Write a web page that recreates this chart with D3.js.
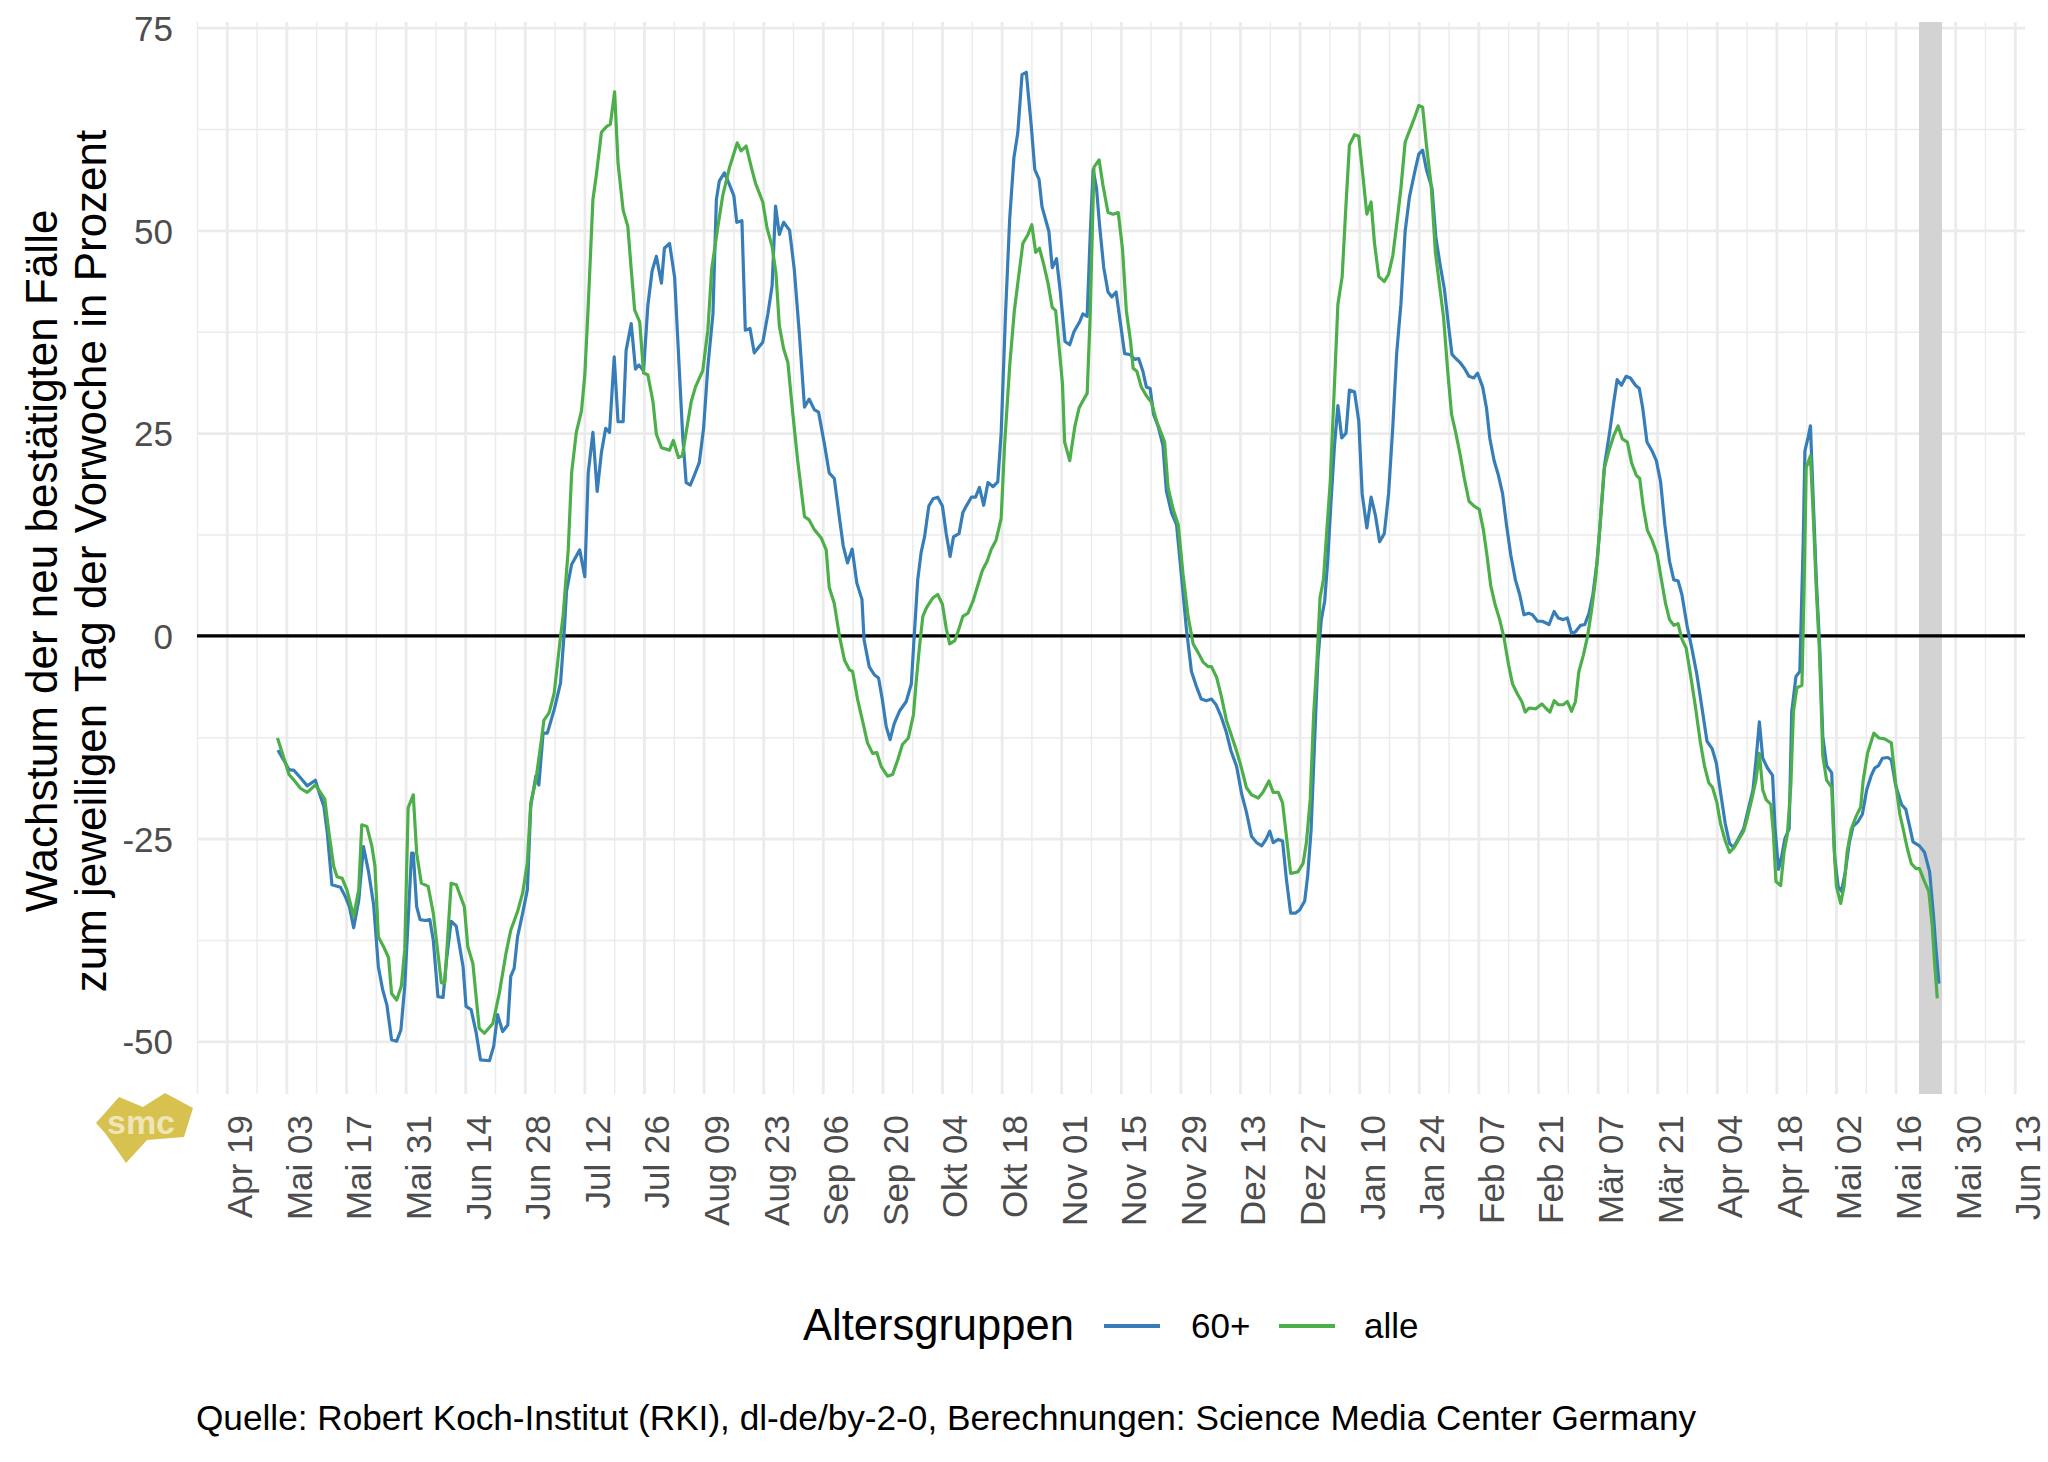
<!DOCTYPE html>
<html>
<head>
<meta charset="utf-8">
<script src="https://cdn.jsdelivr.net/npm/d3@7"></script>
<style>
  body { margin: 0; background: #fff; }
  text { font-family: "Liberation Sans", Arial, Helvetica, sans-serif; }
</style>
</head>
<body>
<div id="chart"></div>
<script>
// growth vs. same weekday of previous week, in percent
// each point: [days since 19 Apr 2020, value]
const series60 = [[12,-14.1],[13.8,-15.7],[14.6,-16.5],[15.8,-16.6],[17.3,-17.5],[18.9,-18.5],[20.8,-17.8],[22,-19.8],[22.8,-21],[23.6,-24.3],[24.7,-30.7],[26.7,-31],[27.8,-32.1],[28.8,-33.4],[29.8,-36],[31,-32.6],[32.1,-26],[33.3,-29.1],[34.5,-33.2],[35.6,-40.8],[36.6,-43.6],[37.6,-45.5],[38.7,-49.8],[39.9,-50],[40.9,-48.6],[41.8,-43.2],[42.6,-35],[43.4,-26.8],[43.8,-26.8],[44.6,-33.4],[45.4,-35],[46.6,-35.1],[47.7,-35],[48.5,-37.5],[49.6,-44.5],[50.8,-44.6],[51.6,-40],[52.7,-35.2],[53.9,-35.8],[55.5,-40.8],[56.2,-45.7],[57.4,-46.1],[58.6,-49],[59.6,-52.3],[61.7,-52.4],[62.7,-50.6],[63.6,-46.7],[64.8,-48.8],[66,-48],[66.7,-42],[67.5,-41],[68.3,-37.1],[69.5,-34.2],[70.6,-31.3],[71.4,-21],[72.6,-17.3],[73.3,-18.4],[74.3,-12],[75.3,-12],[76.9,-9.1],[78.4,-5.8],[79.2,0],[79.8,5.5],[81,8.8],[82.9,10.6],[84.1,7.3],[84.9,20.1],[86,25.1],[87,17.8],[88,22.6],[89,25.6],[89.9,25.1],[91,34.4],[91.9,26.4],[93.1,26.4],[93.8,35.2],[95,38.5],[96,32.9],[96.8,33.4],[97.9,32.7],[98.9,40.7],[99.9,45],[100.9,46.8],[102.1,43.5],[102.8,47.8],[104,48.4],[105.2,44.2],[106.4,31.7],[107.1,24.6],[107.9,18.9],[108.9,18.6],[109.9,19.9],[111,21.4],[112,25.6],[113,33.2],[114.2,39.7],[115,53.8],[115.7,56.1],[116.9,57.1],[118.1,55.6],[119.1,54.3],[119.8,51],[121,51.2],[121.8,37.7],[122.9,37.9],[123.9,34.9],[125.9,36.2],[127.1,39.7],[128.1,43.2],[128.9,53],[129.8,49.5],[130.8,51],[132.2,50],[133.3,45.2],[134.5,37.2],[135.7,28.2],[136.8,29.2],[138,27.9],[139,27.6],[140.4,23.6],[141.5,20.1],[142.7,19.4],[143.9,14.6],[144.8,11.1],[145.8,9],[146.9,10.7],[148,6.5],[149.2,4.5],[149.7,-0.5],[150.9,-3.8],[152.1,-4.8],[153.1,-5.2],[154,-7.9],[154.9,-11.2],[155.8,-12.8],[156.8,-10.8],[158,-9.3],[159.6,-8.1],[160.8,-5.9],[161.5,0.2],[162.3,6.9],[163.1,10.3],[163.9,12.2],[164.9,16],[165.9,16.9],[167,17.1],[168.1,16],[169,12.6],[169.9,9.8],[170.7,12.2],[172,12.6],[172.9,15.2],[173.7,16],[174.9,17.1],[175.9,17.1],[176.8,18.3],[177.8,16.1],[178.8,18.9],[180,18.4],[181.1,19],[181.9,25],[182.9,39.4],[183.9,51.4],[184.9,59],[185.8,62],[186.8,69.2],[187.8,69.5],[189,62.7],[189.8,57.5],[190.8,56.3],[191.5,52.9],[192.3,51.4],[193.1,49.9],[193.9,45.4],[194.9,46.5],[195.8,42.4],[196.9,36.3],[198,35.9],[199,37.5],[200.4,38.8],[201.1,39.7],[202.1,39.4],[202.8,49.2],[203.5,57.5],[204.3,55.2],[205,50.7],[206,45.4],[207,42.4],[207.9,41.8],[208.9,42.4],[209.9,38.6],[210.9,34.8],[212.1,34.7],[213.3,34.1],[214.2,34.2],[215.2,32.6],[216,30.7],[216.9,30.5],[217.7,27.3],[218.8,25.8],[219.9,23.5],[220.7,17.9],[221.9,15.2],[223.1,13.7],[224.2,7.7],[225.4,0.9],[226.6,-4.4],[227.8,-6.3],[228.9,-7.8],[230.1,-8],[231.3,-7.8],[232.4,-8.5],[233.6,-10],[234.8,-11.9],[235.9,-14.2],[237.2,-16.1],[238.4,-19.5],[239.5,-21.7],[240.7,-24.7],[241.9,-25.5],[243.1,-25.9],[244.1,-25.1],[245,-24.1],[245.8,-25.5],[247,-25.1],[248,-25.3],[248.9,-30],[249.9,-34.2],[251,-34.2],[252,-33.8],[253.2,-32.7],[253.9,-29.6],[254.7,-24],[255.5,-13.4],[256.3,-2.9],[257.1,2],[257.9,4.3],[258.6,9.2],[259.4,16.7],[260.2,23.5],[261,28.4],[261.9,24.4],[262.9,25],[263.7,30.3],[264.9,30.1],[265.9,26.5],[266.7,17.5],[267.8,13.3],[268.8,17.1],[269.8,14.9],[270.8,11.6],[271.9,12.6],[272.9,17.5],[273.9,25.8],[274.8,34.8],[275.8,40.9],[276.8,49.9],[277.8,54.1],[279,57.1],[280,59.4],[280.9,59.9],[281.8,57.5],[283.1,55.2],[284,49.2],[285,45.8],[286,42.8],[287,38.2],[287.8,34.7],[288.7,34.2],[289.7,33.7],[290.7,33],[291.8,32],[292.9,31.8],[293.8,32.4],[295,30.7],[295.9,28.1],[296.7,24.3],[297.7,21.6],[298.7,19.8],[299.7,17.5],[300.6,13.7],[301.6,10],[302.7,6.9],[303.7,5.1],[304.7,2.6],[305.8,2.8],[306.7,2.6],[307.9,1.8],[309,1.8],[310.6,1.4],[311.8,3],[312.8,2.2],[313.9,2],[314.9,2.2],[315.9,0.3],[316.8,0.5],[318,1.3],[319,1.4],[320,2.8],[320.9,5.1],[321.9,9.2],[322.7,14.5],[323.7,21.3],[324.8,25],[325.8,28.8],[326.6,31.6],[327.6,30.9],[328.7,32],[329.7,31.8],[330.9,30.9],[331.8,30.5],[332.6,28.1],[333.6,23.9],[334.8,22.8],[335.8,21.6],[336.8,19],[337.8,13.7],[338.9,9.2],[339.9,6.9],[340.9,6.8],[341.8,5.1],[343,1.3],[344.2,-1.7],[345.3,-4.7],[346.5,-8.8],[347.7,-13],[348.9,-13.9],[349.9,-15.7],[350.8,-19],[352,-23.2],[353,-25.6],[353.9,-26.1],[355.1,-25],[356.3,-23.8],[357.4,-21.4],[358.5,-19],[359.2,-15.4],[360,-10.6],[360.8,-15.1],[361.9,-16.3],[363.1,-17.2],[363.7,-23.8],[364.5,-28.8],[365.2,-27.3],[366,-25],[367,-23.8],[367.6,-9.4],[368.6,-5],[369.5,-4.4],[370.3,11.5],[370.7,22.8],[371.5,24.6],[372,25.9],[372.7,16.2],[373.4,6.7],[374.2,-1.7],[374.9,-12.4],[375.8,-16],[377,-16.9],[377.7,-27.3],[378.5,-30.9],[379.3,-31.5],[380.2,-29.1],[381.1,-25.6],[382,-23.5],[383.2,-22.9],[384.2,-22],[385.2,-19],[386.3,-17.2],[387.1,-16.3],[388,-16],[388.9,-15.1],[390.2,-15],[391,-15.3],[392,-18.4],[393.4,-20.8],[394.4,-21.4],[395.3,-23.5],[396.1,-25.4],[397.6,-25.9],[398.8,-26.7],[400,-29.1],[400.9,-34.5],[401.5,-38.7],[402.2,-42.9]];

const seriesAlle = [[11.9,-12.6],[13.8,-15.7],[14.6,-17.1],[15.8,-17.8],[17.3,-18.8],[18.9,-19.3],[20.8,-18.4],[21.6,-19],[23,-20.1],[24,-24.3],[25.1,-28.4],[25.9,-29.7],[27.1,-29.9],[28.2,-31.3],[29.8,-34.6],[31,-31.3],[31.7,-23.3],[32.9,-23.5],[34.1,-26],[34.8,-28.4],[35.6,-37.1],[36.8,-38.3],[38,-39.7],[38.7,-44.1],[39.9,-44.9],[41,-43.2],[41.8,-38.7],[42.6,-21.2],[43.8,-19.6],[44.6,-26.8],[45.7,-30.5],[47.3,-30.9],[48.5,-34.2],[50.4,-42.8],[51.2,-42.8],[52.7,-30.5],[53.9,-30.7],[55.8,-33.4],[56.6,-38.3],[57.8,-40.4],[59.3,-48.4],[60.5,-49],[62.5,-47.8],[64,-44.1],[65.6,-39.1],[66.7,-36.3],[68.3,-34],[69.5,-31.7],[70.6,-28],[71.4,-20.6],[72.6,-17.8],[73.7,-13.6],[74.5,-10.4],[75.7,-9.5],[76.9,-7.1],[77.6,-3.8],[78.4,-0.1],[79,2.5],[80.2,10.6],[81,20.1],[82.1,25.1],[83.3,27.7],[84.1,32.2],[84.9,40.7],[86,53.8],[86.8,56.8],[88,62.1],[89.2,62.8],[90.1,63.1],[91.1,67.1],[91.9,58.3],[93.1,52.5],[94.2,50.5],[95,45.2],[95.8,40.2],[97,38.7],[97.9,32.4],[98.9,32.2],[100.1,28.9],[100.9,24.9],[102.1,23.2],[104,22.9],[104.9,24.1],[106.1,22],[107,22.2],[107.9,25.1],[109.1,28.9],[110.1,30.7],[111.8,32.7],[113,37.7],[113.9,45.2],[115.3,50.3],[116.5,54.3],[118.1,57.8],[119.9,60.8],[120.8,59.8],[122,60.4],[123.2,57.8],[124.2,55.8],[125.9,53.5],[126.9,50.3],[128.1,48],[129,44.7],[129.8,38.2],[130.8,35.4],[131.8,33.7],[132.9,27.7],[134.1,21.6],[135.7,14.7],[136.8,14.3],[138,13.1],[139.6,12.1],[140.8,10.6],[141.5,6],[142.7,4],[143.9,0],[145.1,-3],[146.3,-4.2],[147,-4.4],[148.2,-7.9],[149.3,-10.4],[150.5,-13.2],[151.7,-14.5],[152.7,-14.4],[153.7,-16.1],[155.2,-17.3],[156.4,-17.1],[157.6,-15.3],[158.7,-13.4],[160.1,-12.6],[161.3,-9.7],[161.9,-5.9],[162.7,-1.4],[163.5,2.4],[164.4,3.5],[165.9,4.7],[167,5.1],[168.1,3.9],[169,0.9],[169.8,-1],[171,-0.6],[172,0.9],[172.9,2.4],[174.1,2.8],[175.3,4.3],[176.4,6.2],[177.5,8.1],[178.6,9.2],[179.6,10.7],[180.7,11.8],[181.9,14.5],[182.7,23.5],[183.9,33.3],[185,40.1],[186,44.3],[187,48.4],[188.2,49.5],[189.1,50.7],[190,47.3],[190.9,47.8],[191.9,45.8],[192.9,43.5],[193.9,40.5],[194.7,40.1],[195.5,35.6],[196.3,31.1],[196.8,23.9],[198,21.6],[199.2,25.8],[200.2,28.1],[201.1,29],[202.1,29.9],[202.8,39.4],[203.7,57.8],[204.9,58.7],[205.8,55.6],[207,52.2],[208.2,52],[209.4,52.2],[210.4,47.7],[211.3,40.1],[212.3,36.3],[212.9,33],[213.8,32.6],[214.8,30.7],[216,29.6],[217.2,28.8],[218.4,26.5],[219.5,25],[220.3,23.9],[221.1,18.3],[222.3,15.6],[223.5,13.7],[224.6,7.7],[225.8,2.4],[227,-1],[228.2,-2.1],[229.3,-3.2],[230.5,-3.8],[231.3,-3.8],[232.5,-5.1],[233.6,-7.4],[234.8,-10.4],[236,-12.3],[237.2,-14.2],[238.4,-16.4],[239.5,-18.7],[240.7,-19.6],[242.3,-20],[243.4,-19.3],[244.8,-17.9],[245.8,-19.3],[247,-19.3],[248,-20.6],[248.9,-24.7],[249.9,-29.3],[251.6,-29.1],[252.8,-28.1],[253.6,-25.5],[254.5,-20.2],[255.3,-9.7],[256.1,-2.9],[256.8,4.7],[257.6,6.9],[258.4,13],[259.2,19],[260.2,31.1],[261,40.9],[262,44.3],[262.8,52.2],[263.7,60.5],[264.9,61.8],[265.9,61.6],[266.8,57.1],[267.8,52],[268.8,53.5],[269.6,48.4],[270.6,44.3],[271.9,43.7],[272.9,44.6],[273.9,46.9],[274.8,50.7],[275.8,55.2],[276.8,60.9],[277.9,62.4],[279,63.9],[280,65.4],[280.9,65.2],[281.8,60.5],[282.9,55.6],[283.9,47.3],[284.8,43.5],[285.8,39.4],[286.8,32.6],[287.7,27.3],[288.7,25],[289.7,22.4],[290.7,19.4],[291.8,16.6],[293,16],[294.2,15.6],[295.2,13],[296.1,9.6],[296.9,6.2],[297.9,3.9],[299,2],[300,-0.2],[301.1,-3.6],[302,-5.9],[303.2,-7.2],[304.2,-8.1],[305,-9.4],[305.9,-8.9],[307.5,-9],[308.9,-8.4],[309.8,-8.9],[310.8,-9.4],[311.8,-8],[312.8,-8.5],[313.9,-8.5],[314.9,-8.1],[315.9,-9.3],[316.8,-8.1],[317.6,-4.4],[318.6,-2.5],[319.6,-0.2],[320.6,3.2],[321.5,6.9],[322.5,13],[323.5,20.5],[324.7,22.9],[325.8,24.7],[326.8,25.9],[327.8,24.3],[329,23.9],[330,21.3],[331.1,19.8],[331.9,19.4],[332.7,16],[333.7,13],[334.8,11.8],[336,10],[337,6.9],[338,3.9],[338.9,2],[339.9,1.3],[340.9,1.5],[341.8,-0.4],[342.8,-1.5],[343.8,-4.7],[345,-8.8],[346.1,-13],[347.1,-16],[348.1,-18.1],[349,-18.7],[350,-20.5],[350.9,-23.2],[352,-25.3],[353,-26.7],[354.1,-26.1],[355.3,-25],[356.3,-24.1],[357.1,-22.6],[358.2,-20.2],[359.2,-17.8],[360,-14.5],[360.8,-19],[361.6,-20.2],[362.7,-20.8],[363.3,-24.4],[363.9,-30.3],[365,-30.8],[365.8,-26.7],[366.6,-24.4],[367.4,-18.4],[368,-9.4],[368.8,-6.4],[370,-6.1],[370.5,5.5],[371,20.7],[372,22.2],[372.7,14.4],[373.4,5.5],[374.1,-1.7],[374.9,-14.8],[375.8,-17.8],[377,-18.7],[377.5,-25.6],[378.1,-30.9],[379.1,-33],[379.9,-30.9],[380.6,-26.7],[381.6,-23.8],[382.7,-22.3],[383.8,-21.1],[384.4,-17.8],[385.4,-14.5],[386.1,-13.3],[386.9,-12],[388.1,-12.6],[389.4,-12.7],[391,-13.2],[392,-18.1],[393,-22],[393.9,-24.1],[394.7,-26.1],[395.7,-28.1],[396.8,-28.7],[397.6,-28.7],[398.8,-30.3],[399.8,-31.5],[400.6,-35.7],[401.1,-39.9],[401.8,-44.7]];

const tickDates = ["2020-04-19","2020-05-03","2020-05-17","2020-05-31","2020-06-14","2020-06-28","2020-07-12","2020-07-26","2020-08-09","2020-08-23","2020-09-06","2020-09-20","2020-10-04","2020-10-18","2020-11-01","2020-11-15","2020-11-29","2020-12-13","2020-12-27","2021-01-10","2021-01-24","2021-02-07","2021-02-21","2021-03-07","2021-03-21","2021-04-04","2021-04-18","2021-05-02","2021-05-16","2021-05-30","2021-06-13"];
const tickLabels = ["Apr 19","Mai 03","Mai 17","Mai 31","Jun 14","Jun 28","Jul 12","Jul 26","Aug 09","Aug 23","Sep 06","Sep 20","Okt 04","Okt 18","Nov 01","Nov 15","Nov 29","Dez 13","Dez 27","Jan 10","Jan 24","Feb 07","Feb 21","Mär 07","Mär 21","Apr 04","Apr 18","Mai 02","Mai 16","Mai 30","Jun 13"];
const yTicks = [-50, -25, 0, 25, 50, 75];
const yMinor = [-37.5, -12.5, 12.5, 37.5, 62.5];
const incompleteDays = [397.5, 402.9]; // shaded, data not yet complete
const groups = ["60+", "alle"];
const colors = ["#377EB8", "#4DAF4A"];

const W = 2048, H = 1462;
const pLeft = 197, pRight = 2025, pTop = 22, pBottom = 1094;

const t0 = Date.UTC(2020, 3, 19);
const toDate = d => new Date(t0 + d * 864e5);
const parse = d3.utcParse("%Y-%m-%d");

const x = d3.scaleUtc().domain([toDate(-7), toDate(422.4)]).range([pLeft, pRight]);
const y = d3.scaleLinear().domain([-56.5, 75.7]).range([pBottom, pTop]);

const svg = d3.select("#chart").append("svg")
    .attr("width", W)
    .attr("height", H)
    .style("background", "#fff");

// grid
const majorDates = tickDates.map(parse);
const minorDates = d3.range(-7, 421, 14).map(toDate);

svg.append("g")
    .attr("transform", `translate(0,${pBottom})`)
    .call(d3.axisBottom(x).tickValues(minorDates).tickSize(-(pBottom - pTop)).tickFormat(""))
    .call(g => g.select(".domain").remove())
    .selectAll("line").attr("stroke", "#EBEBEB").attr("stroke-width", 1.4);

svg.append("g")
    .attr("transform", `translate(${pLeft},0)`)
    .call(d3.axisLeft(y).tickValues(yMinor).tickSize(-(pRight - pLeft)).tickFormat(""))
    .call(g => g.select(".domain").remove())
    .selectAll("line").attr("stroke", "#EBEBEB").attr("stroke-width", 1.4);

svg.append("g")
    .attr("transform", `translate(0,${pBottom})`)
    .call(d3.axisBottom(x).tickValues(majorDates).tickSize(-(pBottom - pTop)).tickFormat(""))
    .call(g => g.select(".domain").remove())
    .selectAll("line").attr("stroke", "#EBEBEB").attr("stroke-width", 2.8);

svg.append("g")
    .attr("transform", `translate(${pLeft},0)`)
    .call(d3.axisLeft(y).tickValues(yTicks).tickSize(-(pRight - pLeft)).tickFormat(""))
    .call(g => g.select(".domain").remove())
    .selectAll("line").attr("stroke", "#EBEBEB").attr("stroke-width", 2.8);

// shaded band for the last days
svg.append("rect")
    .attr("x", x(toDate(incompleteDays[0])))
    .attr("y", pTop)
    .attr("width", x(toDate(incompleteDays[1])) - x(toDate(incompleteDays[0])))
    .attr("height", pBottom - pTop)
    .attr("fill", "#D3D3D3");

// zero line
svg.append("line")
    .attr("x1", pLeft).attr("x2", pRight)
    .attr("y1", y(0)).attr("y2", y(0))
    .attr("stroke", "#000").attr("stroke-width", 3.4);

// lines
const line = d3.line()
    .x(d => x(toDate(d[0])))
    .y(d => y(d[1]));

[series60, seriesAlle].forEach((s, i) => {
    svg.append("path")
        .datum(s)
        .attr("fill", "none")
        .attr("stroke", colors[i])
        .attr("stroke-width", 3.2)
        .attr("stroke-linejoin", "round")
        .attr("d", line);
});

// y axis labels (plain hyphen minus like the original)
svg.append("g")
    .attr("transform", `translate(${pLeft},0)`)
    .call(d3.axisLeft(y).tickValues(yTicks).tickSize(0).tickPadding(24).tickFormat(d => String(d)))
    .call(g => g.select(".domain").remove())
    .selectAll("text")
    .attr("font-size", 35)
    .attr("fill", "#4D4D4D")
    .attr("dy", "0.36em");

// x axis labels, rotated
svg.append("g")
    .attr("transform", `translate(0,${pBottom})`)
    .call(d3.axisBottom(x).tickValues(majorDates).tickSize(0).tickFormat((d, i) => tickLabels[i]))
    .call(g => g.select(".domain").remove())
    .selectAll("text")
    .attr("x", 0).attr("y", 0).attr("dy", 0)
    .attr("text-anchor", "end")
    .attr("transform", "translate(25,21) rotate(-90)")
    .attr("font-size", 35)
    .attr("fill", "#4D4D4D");

// y title
const yTitle = svg.append("text")
    .attr("transform", `translate(57,${(pTop + pBottom) / 2 + 3}) rotate(-90)`)
    .attr("text-anchor", "middle")
    .attr("font-size", 44)
    .attr("fill", "#000");
yTitle.append("tspan").attr("x", 0).attr("dy", 0).text("Wachstum der neu bestätigten Fälle");
yTitle.append("tspan").attr("x", 0).attr("dy", 49).text("zum jeweiligen Tag der Vorwoche in Prozent");

// legend
const legend = svg.append("g");
legend.append("text")
    .attr("x", 803).attr("y", 1340)
    .attr("font-size", 43.5)
    .text("Altersgruppen");
const keyX = [1104, 1279];
const labX = [1191, 1364];
groups.forEach((g, i) => {
    legend.append("line")
        .attr("x1", keyX[i]).attr("x2", keyX[i] + 56)
        .attr("y1", 1326).attr("y2", 1326)
        .attr("stroke", colors[i]).attr("stroke-width", 4);
    legend.append("text")
        .attr("x", labX[i]).attr("y", 1338)
        .attr("font-size", 35)
        .text(g);
});

// caption
svg.append("text")
    .attr("x", 196).attr("y", 1430)
    .attr("font-size", 35.2)
    .text("Quelle: Robert Koch-Institut (RKI), dl-de/by-2-0, Berechnungen: Science Media Center Germany");

// smc logo
const logo = svg.append("g");
logo.append("polygon")
    .attr("points", "96,1123 119,1097 143,1107 165,1093 193,1108 184,1137 147,1140 126,1163 105,1133")
    .attr("fill", "#D8C24F");
logo.append("text")
    .attr("x", 141).attr("y", 1134)
    .attr("text-anchor", "middle")
    .attr("font-size", 34)
    .attr("font-weight", "bold")
    .attr("fill", "#fff")
    .attr("fill-opacity", 0.6)
    .text("smc");
</script>
</body>
</html>
